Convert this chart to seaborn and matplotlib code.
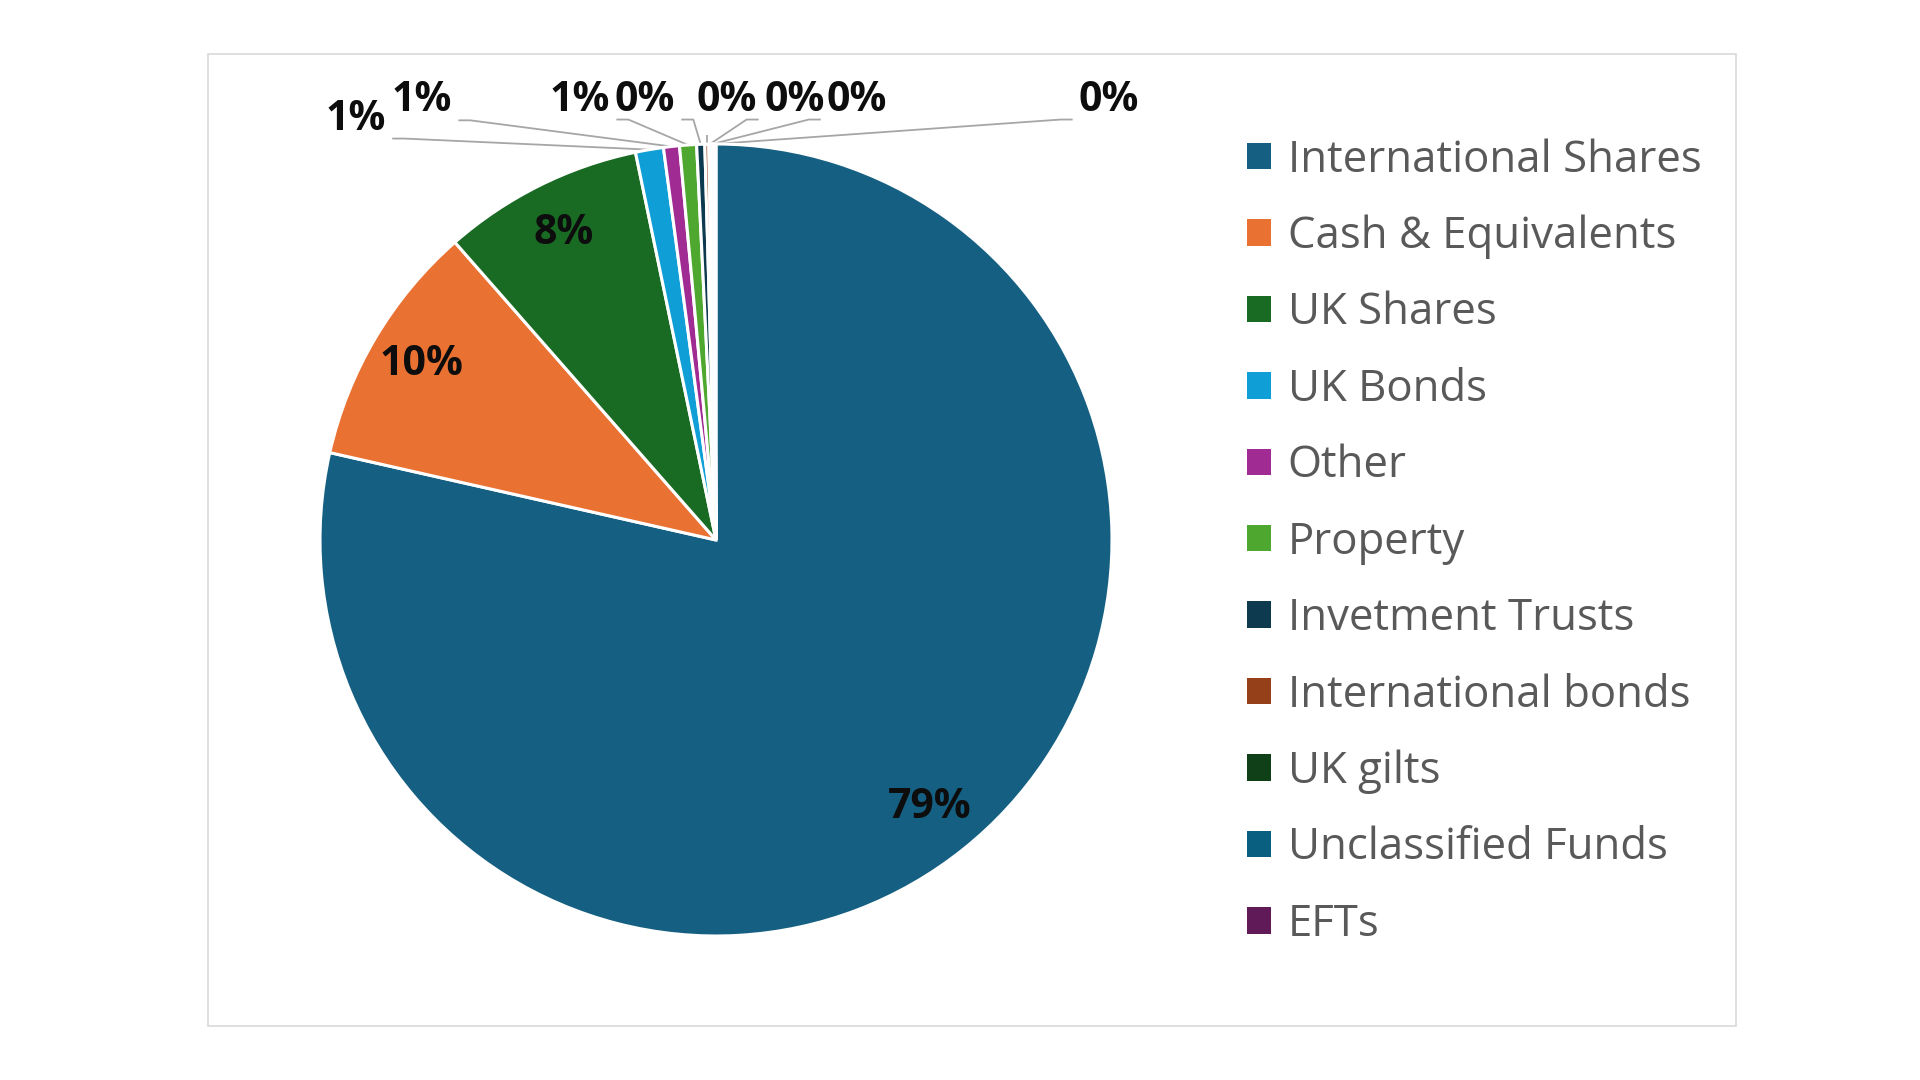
import matplotlib
matplotlib.use("Agg")
import matplotlib.pyplot as plt
from matplotlib.patches import Patch, Rectangle
import numpy as np
import seaborn as sns

# ---- data ----
categories = ["International Shares", "Cash & Equivalents", "UK Shares", "UK Bonds",
              "Other", "Property", "Invetment Trusts", "International bonds",
              "UK gilts", "Unclassified Funds", "EFTs"]
values = [78.55, 10.0, 8.2, 1.14, 0.65, 0.69, 0.33, 0.16, 0.10, 0.10, 0.09]
colors = ["#156082", "#E97132", "#196B24", "#0F9ED5", "#A02B93", "#4EA72E",
          "#0D3A4E", "#96401A", "#0F4017", "#095F80", "#601A58"]

# label positions (axes data units, pie radius = 1) for small outside labels
outside_pos = {3: (-0.909, 1.063), 4: (-0.742, 1.109), 5: (-0.343, 1.111),
               6: (-0.179, 1.111), 7: (0.028, 1.111), 8: (0.199, 1.111),
               9: (0.356, 1.111), 10: (0.992, 1.111)}

sns.set_theme(style="white")
plt.rcParams["font.family"] = ["Open Sans", "DejaVu Sans"]
palette = sns.color_palette(colors)

W, H = 1920, 1080
fig = plt.figure(figsize=(19.2, 10.8), dpi=100)
fig.patch.set_facecolor("white")

# outer frame
fig.patches.append(Rectangle((208 / W, 1 - 1026 / H), 1528 / W, 972 / H,
                             transform=fig.transFigure, fill=False,
                             edgecolor="#D9D9D9", linewidth=1.2))

cx, cy, R = 716, 540, 396
ax = fig.add_axes([(cx - R) / W, (cy - R) / H, 2 * R / W, 2 * R / H])
wedges, _ = ax.pie(values, colors=palette, startangle=90, counterclock=False,
                   radius=1, wedgeprops=dict(edgecolor="white", linewidth=2.2))
ax.set_xlim(-1, 1)
ax.set_ylim(-1, 1)
ax.set_aspect("auto")
ax.axis("off")

label_kw = dict(fontsize=29.5, fontweight="bold", color="#0D0D0D",
                ha="center", va="center", clip_on=False)

texts = {}
for i, (w, v) in enumerate(zip(wedges, values)):
    mid = np.deg2rad((w.theta1 + w.theta2) / 2)
    txt = f"{round(v):.0f}%"
    if i in outside_pos:
        x, y = outside_pos[i]
        texts[i] = ax.text(x, y, txt, **label_kw)
    else:
        ax.text(0.865 * np.cos(mid), 0.865 * np.sin(mid), txt, **label_kw)

fig.canvas.draw()
inv = ax.transData.inverted()
px = 1.0 / R  # one pixel in data units
for i, t in texts.items():
    w = wedges[i]
    mid = np.deg2rad((w.theta1 + w.theta2) / 2)
    ax_, ay_ = np.cos(mid), np.sin(mid)
    bb = t.get_window_extent().transformed(inv)
    y0 = bb.y0 + 1 * px
    if bb.x1 + 4 * px < ax_:
        xs = [bb.x1 + 6 * px, bb.x1 + 18 * px, ax_]
        ys = [y0, y0, ay_]
    elif bb.x0 - 4 * px > ax_:
        xs = [bb.x0 - 6 * px, bb.x0 - 18 * px, ax_]
        ys = [y0, y0, ay_]
    else:
        xs = [ax_, ax_]
        ys = [y0 - 15 * px, ay_]
    ax.plot(xs, ys, color="#A6A6A6", linewidth=1.3, clip_on=False,
            solid_capstyle="butt", zorder=0)

handles = [Patch(facecolor=c, edgecolor="none") for c in palette]
fig.legend(handles, categories, loc="upper left",
           bbox_to_anchor=(1247 / W, 1 - 138 / H), frameon=False,
           fontsize=31.5, labelcolor="#595959", handlelength=0.55,
           handleheight=0.55, handletextpad=0.38, labelspacing=0.73,
           borderpad=0, borderaxespad=0)

fig.savefig("out.png", dpi=100, facecolor="white")
